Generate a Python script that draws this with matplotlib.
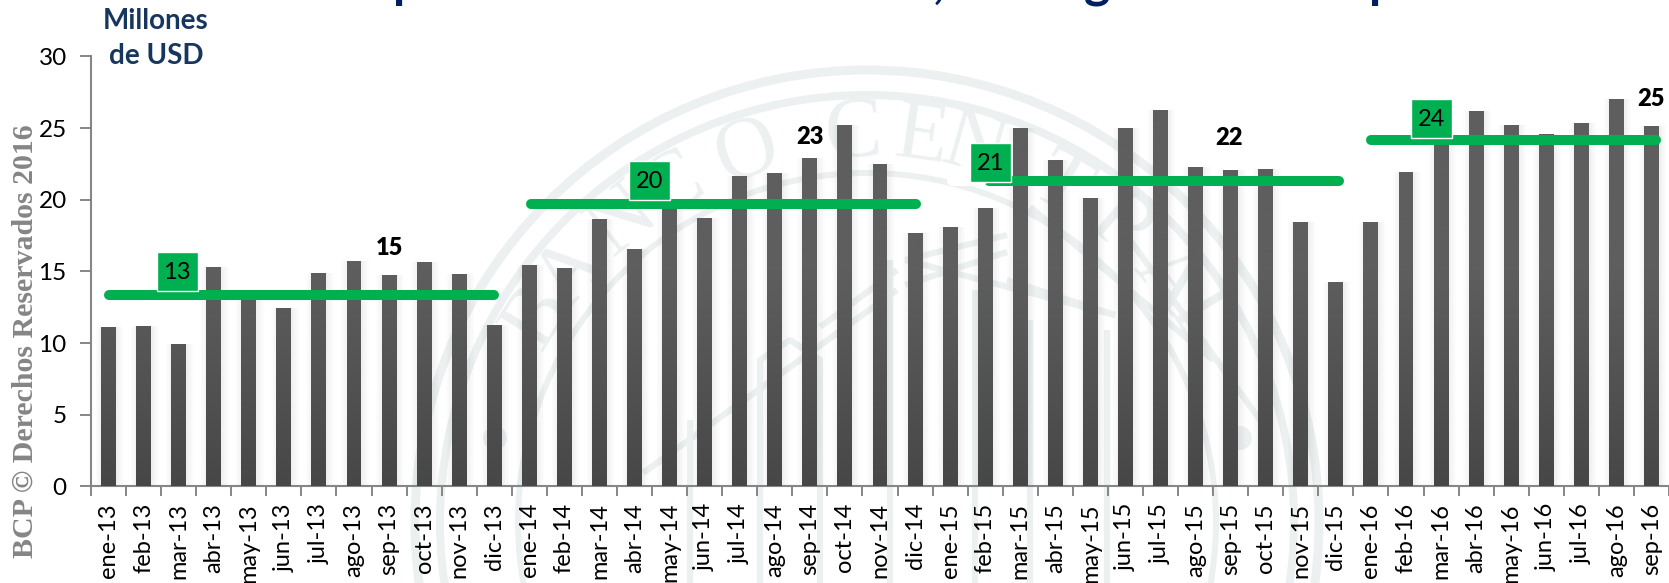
import numpy as np
import matplotlib
matplotlib.use("Agg")
import matplotlib.pyplot as plt
from matplotlib.patches import Circle, Rectangle
from matplotlib.path import Path
from matplotlib.colors import LinearSegmentedColormap

months = ["ene-13","feb-13","mar-13","abr-13","may-13","jun-13","jul-13","ago-13","sep-13","oct-13","nov-13","dic-13",
          "ene-14","feb-14","mar-14","abr-14","may-14","jun-14","jul-14","ago-14","sep-14","oct-14","nov-14","dic-14",
          "ene-15","feb-15","mar-15","abr-15","may-15","jun-15","jul-15","ago-15","sep-15","oct-15","nov-15","dic-15",
          "ene-16","feb-16","mar-16","abr-16","may-16","jun-16","jul-16","ago-16","sep-16"]
values = [11.1,11.2,9.93,15.3,13.3,12.44,14.9,15.7,14.75,15.65,14.8,11.25,
          15.45,15.24,18.65,16.56,19.8,18.7,21.65,21.85,22.9,25.2,22.5,17.7,
          18.1,19.4,25.0,22.8,20.1,25.0,26.25,22.3,22.1,22.15,18.45,14.26,
          18.45,21.95,24.3,26.2,25.2,24.6,25.35,27.05,25.15]
avg_values = [13.35, 19.7, 21.3, 24.15]
avg_labels = ["13", "20", "21", "24"]
avg_spans = [(0.0, 10.98), (12.05, 23.04), (25.1, 35.1), (36.01, 44.12)]
avg_label_pos = [(1.96, 15.0), (15.43, 21.35), (25.14, 22.6), (37.74, 25.64)]
ann_labels = ["15", "23", "22", "25"]
ann_pos = [(8.01, 16.6), (20.0, 24.4), (31.95, 24.3), (44.0, 27.0)]
yticks = [0, 5, 10, 15, 20, 25, 30]

W, H = 1669, 583
SANS = "Lato"
fig = plt.figure(figsize=(W/100, H/100), dpi=100, facecolor="white")

# --- watermark seal, in pixel space ---
bg = fig.add_axes([0, 0, 1, 1], zorder=0)
bg.set_xlim(0, W); bg.set_ylim(H, 0); bg.axis("off")
WM = "#edf0f1"
cx, cy = 867, 522
for r, t in [(452, 9), (427, 8), (349, 6)]:
    bg.add_patch(Circle((cx, cy), r, fill=False, ec=WM, lw=t*0.72))
arc_letters = [("B",-58),("A",-50),("N",-39),("C",-30),("O",-18),("C",-2),("E",8),("N",16),("T",30),("R",41),("A",51),("L",59)]
for ch, ang in arc_letters:
    a = np.radians(ang)
    bg.text(cx+387*np.sin(a), cy-387*np.cos(a), ch, rotation=-ang, rotation_mode="anchor",
            ha="center", va="center", family="Liberation Serif", fontsize=62, color=WM)
seal_lines = [[(643,473),(897,290)], [(820,327),(897,270)], [(905,260),(1007,235)], [(905,285),(1007,252)],
              [(905,260),(1115,315)], [(1007,280),(1115,315)], [(1030,207),(1213,360)], [(1130,240),(1260,420)],
              [(1107,330),(1107,583)], [(760,583),(760,360),(790,340),(820,360),(820,583)],
              [(890,583),(890,260)], [(975,583),(975,290)], [(1030,583),(1030,320)], [(690,583),(690,420)]]
for seg in seal_lines:
    xs, ys = zip(*seg)
    bg.plot(xs, ys, color=WM, lw=4.5, solid_capstyle="butt")
for dx in (495, 1240):
    bg.add_patch(Circle((dx, 438), 12, color=WM, ec="none"))

# --- main chart ---
L, R = 91, 1669
top, bot = 56.4, 486.4
ax = fig.add_axes([L/W, 1-bot/H, (R-L)/W, (bot-top)/H], zorder=1)
ax.patch.set_alpha(0)
x = np.arange(len(values))
bar_w = 15/35.12
# soft shadow
for wid in (1.85, 1.65, 1.45, 1.25, 1.1):
    ax.bar(x+0.03, values, width=bar_w*wid, color="#808080", alpha=0.022, lw=0, zorder=1)
bars = ax.bar(x, values, width=bar_w, color="#555555", lw=0, zorder=2)
verts, codes = [], []
for b in bars:
    x0, y0, w, h = b.get_x(), b.get_y(), b.get_width(), b.get_height()
    verts += [(x0,y0),(x0+w,y0),(x0+w,y0+h),(x0,y0+h),(x0,y0)]
    codes += [Path.MOVETO, Path.LINETO, Path.LINETO, Path.LINETO, Path.CLOSEPOLY]
cmap = LinearSegmentedColormap.from_list("g", ["#5e5e5e", "#5e5e5e", "#474747"])
im = ax.imshow(np.linspace(0, 1, 256).reshape(-1, 1), extent=(-0.5, 45, 0, 30), origin="upper",
               aspect="auto", cmap=cmap, zorder=3)
im.set_clip_path(Path(verts, codes), transform=ax.transData)

GREEN = "#00b050"
for (a, b), v in zip(avg_spans, avg_values):
    ax.plot([a, b], [v, v], color=GREEN, lw=7.2, solid_capstyle="round", zorder=5)
ax.plot([24.04, 24.9], [avg_values[2], avg_values[2]], color="white", lw=7.2, solid_capstyle="round", zorder=5.5)
bw, bh = 41/35.12, 39/14.333
for (px, py), t in zip(avg_label_pos, avg_labels):
    ax.add_patch(Rectangle((px-bw/2, py-bh/2), bw, bh, fc=GREEN, ec="white", lw=1, zorder=6))
    ax.text(px, py-0.05, t, ha="center", va="center", family=SANS, fontsize=17, color="black", zorder=7)
for (px, py), t in zip(ann_pos, ann_labels):
    ax.text(px, py, t, ha="center", va="center", family=SANS, fontweight="heavy", fontsize=17, color="black", zorder=7)

ax.set_xlim(-0.5, (R-108.6)/35.12)
ax.set_ylim(0, 30)
ax.set_xticks(x)
ax.set_xticklabels(months, rotation=90, family=SANS, fontsize=17, va="top", ha="center")
ax.set_xticks(np.arange(-0.5, 45, 1), minor=True)
ax.tick_params(axis="x", which="major", length=0, pad=12)
ax.tick_params(axis="x", which="minor", length=7, width=1.4, color="#868686")
ax.set_yticks(yticks)
ax.set_yticklabels([str(v) for v in yticks], family=SANS, fontsize=17.5)
ax.tick_params(axis="y", length=8, width=1.4, color="#868686", pad=9.5)
for s in ("top", "right"):
    ax.spines[s].set_visible(False)
for s in ("left", "bottom"):
    ax.spines[s].set_color("#868686"); ax.spines[s].set_linewidth(1.5)

# --- surrounding texts ---
NAVY = "#17365d"
fig.text(156/W, 1-21/H, "Millones", ha="center", va="center", family=SANS, fontweight="bold", fontsize=20, color=NAVY)
fig.text(156/W, 1-56/H, "de USD", ha="center", va="center", family=SANS, fontweight="bold", fontsize=20, color=NAVY)
fig.text(25/W, 1-341/H, "BCP © Derechos Reservados 2016", rotation=90, ha="center", va="center",
         family="Liberation Serif", fontweight="bold", fontsize=21.5, color="#858585")
# only the descenders of the cropped title are visible in the source
for ch, px in [("p", 407), (",", 939), ("g", 1097), ("p", 1383)]:
    fig.text(px/W, 1+2.5/H, ch, ha="center", va="baseline", family=SANS, fontweight="bold", fontsize=36, color="#002060")

fig.savefig("out.png", dpi=100)
